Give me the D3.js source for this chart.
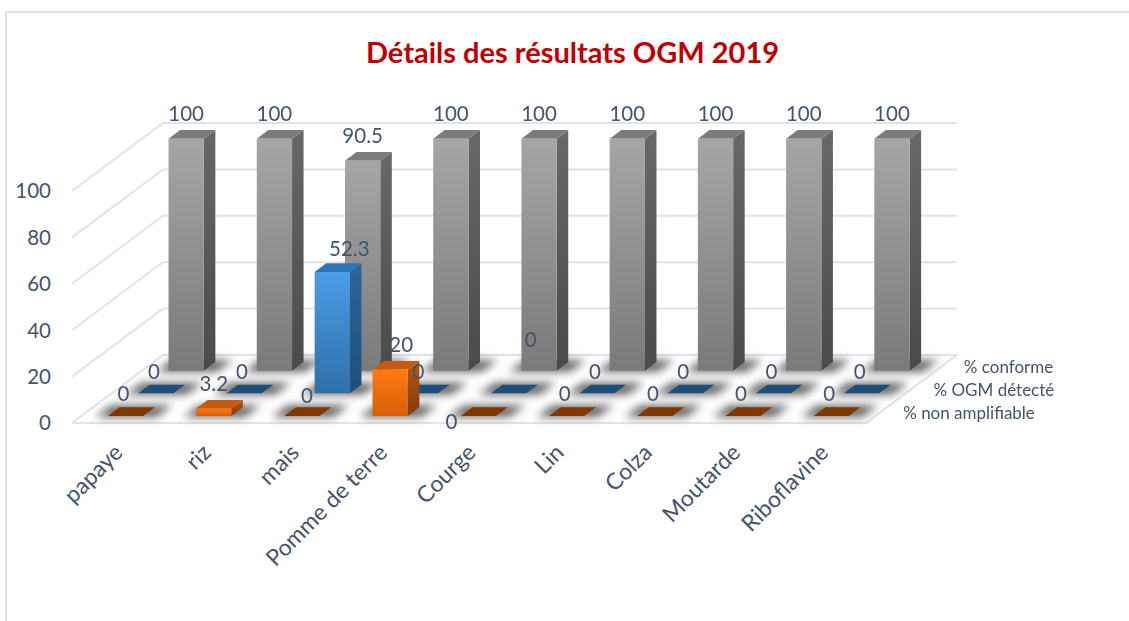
<!DOCTYPE html>
<html><head><meta charset="utf-8">
<script src="https://cdn.jsdelivr.net/npm/d3@7/dist/d3.min.js"></script>
<style>html,body{margin:0;padding:0;background:#fff}svg{display:block}text{font-family:Lato,sans-serif}</style>
</head><body><svg id="c" width="1129" height="621"></svg>
<script>
const categories = ["papaye","riz","mais","Pomme de terre","Courge","Lin","Colza","Moutarde","Riboflavine"];
const seriesNames = ["% non amplifiable","% OGM détecté","% conforme"];
const nonAmplifiable = [0,3.2,0,20,0,0,0,0,0];
const ogmDetecte = [0,0,52.3,0,0,0,0,0,0];
const conforme = [100,100,90.5,100,100,100,100,100,100];
const yTicks = [0,20,40,60,80,100];
const seriesValues = [nonAmplifiable, ogmDetecte, conforme];

const svg = d3.select("#c");
const textCol = "#44546a", gridCol = "#dfe3ec";
const ox = 72, oy = 423, fw = 794, ddx = 91, ddy = 68;
const xBand = d3.scaleBand().domain(categories).range([0,fw]).paddingInner(.6).paddingOuter(.3);
const dBand = d3.scaleBand().domain(seriesNames).range([0,1]).paddingInner(.62).paddingOuter(.31);
const h = d3.scaleLinear().domain([0,100]).range([0,232]);
const P = (u,d,v) => [ox+u+d*ddx, oy-d*ddy-h(v)];
const poly = pts => pts.map(p=>p.join(",")).join(" ");

const styles = [
 {front:["#ff7a10","#d4600a"],side:["#b4560f","#843c0c"],top:"#c55a11",plate:"#7f3700"},
 {front:["#4a9de8","#2f6fa8"],side:["#2f6499","#1f4e79"],top:"#2e75b6",plate:"#1f4e79"},
 {front:["#a6a6a6","#7a7a7a"],side:["#686868","#4a4a4a"],top:"#7b7b7b",plate:"#7b7b7b"}
];
const defs = svg.append("defs");
defs.append("filter").attr("id","blur").attr("filterUnits","userSpaceOnUse")
  .attr("x",0).attr("y",300).attr("width",1129).attr("height",160)
  .append("feGaussianBlur").attr("stdDeviation",4);
styles.forEach((s,i)=>["front","side"].forEach(k=>{
  const g = defs.append("linearGradient").attr("id",k+i).attr("x1",0).attr("y1",0).attr("x2",0).attr("y2",1);
  g.append("stop").attr("offset",0).attr("stop-color",s[k][0]);
  g.append("stop").attr("offset",1).attr("stop-color",s[k][1]);
}));

// outer frame
svg.append("path").attr("d","M6,621V12H1129").attr("fill","none").attr("stroke","#e1e5ea").attr("stroke-width",2);

// title
svg.append("text").attr("x",572.5).attr("y",63).attr("text-anchor","middle")
  .attr("font-size",29).attr("font-weight",700).attr("fill","#c00000").text("Détails des résultats OGM 2019");

// walls and floor
const grid = svg.append("g").attr("fill","none").attr("stroke",gridCol).attr("stroke-width",2);
yTicks.forEach(t=>{
  grid.append("polyline").attr("points",poly([P(0,0,t),P(0,1,t),P(fw,1,t)]));
});
grid.append("polyline").attr("points",poly([P(0,0,0),P(fw,0,0),P(fw,1,0)]));

// y tick labels
svg.append("g").selectAll("text").data(yTicks).join("text")
  .attr("x",51).attr("y",t=>P(0,0,t)[1]).attr("dy","0.36em").attr("text-anchor","end")
  .attr("font-size",20.5).attr("fill",textCol).text(d=>d);

// shadows
const cells = [];
seriesNames.forEach((s,r)=>categories.forEach((c,i)=>cells.push({s,r,c,i,v:seriesValues[r][i]})));
const geo = d => {
  const u0=xBand(d.c), u1=u0+xBand.bandwidth(), d0=dBand(d.s), d1=d0+dBand.bandwidth();
  return {u0,u1,d0,d1};
};
svg.append("g").attr("filter","url(#blur)").selectAll("polygon").data(cells).join("polygon")
  .attr("fill","#555").attr("opacity",.9)
  .attr("points",d=>{const g=geo(d),e=11;return poly([P(g.u0-e,g.d0-.02,0),P(g.u1+e+4,g.d0-.02,0),P(g.u1+e+4,g.d1+.03,0),P(g.u0-e,g.d1+.03,0)]);});

// bars, from the back row to the front row
const order = cells.slice().sort((a,b)=>b.r-a.r||a.i-b.i);
const bars = svg.append("g");
order.forEach(d=>{
  const g=geo(d), st=styles[d.r];
  if(d.v===0){
    bars.append("polygon").attr("fill",st.plate)
      .attr("points",poly([P(g.u0,g.d0,0),P(g.u1,g.d0,0),P(g.u1,g.d1,0),P(g.u0,g.d1,0)]));
    return;
  }
  bars.append("polygon").attr("fill",`url(#side${d.r})`)
    .attr("points",poly([P(g.u1,g.d0,0),P(g.u1,g.d1,0),P(g.u1,g.d1,d.v),P(g.u1,g.d0,d.v)]));
  bars.append("polygon").attr("fill",st.top)
    .attr("points",poly([P(g.u0,g.d0,d.v),P(g.u1,g.d0,d.v),P(g.u1,g.d1,d.v),P(g.u0,g.d1,d.v)]));
  bars.append("polygon").attr("fill",`url(#front${d.r})`)
    .attr("points",poly([P(g.u0,g.d0,0),P(g.u1,g.d0,0),P(g.u1,g.d0,d.v),P(g.u0,g.d0,d.v)]));
});

// data labels (a few were moved by hand in the original)
const nudges = {"2|1":[17,2],"3|0":[11,0],"4|1":[24,-32],"4|0":[-25,28],"2|0":[7,2]};
svg.append("g").selectAll("text").data(cells).join("text")
  .attr("text-anchor","middle").attr("dy","0.36em").attr("font-size",20.5).attr("fill",textCol)
  .attr("x",d=>{const g=geo(d),n=nudges[d.i+"|"+d.r]||[0,0];
     return P((g.u0+g.u1)/2,g.d0,d.v)[0]+(d.v===0?-2:0)+n[0];})
  .attr("y",d=>{const g=geo(d),n=nudges[d.i+"|"+d.r]||[0,0];
     return P(0,g.d0,d.v)[1]-(d.v===0?22:25)+n[1];})
  .text(d=>d.v);

// category labels
svg.append("g").selectAll("text").data(categories).join("text")
  .attr("text-anchor","end").attr("font-size",22.8).attr("fill",textCol)
  .attr("transform",c=>{const [x,y]=P(xBand(c)+xBand.bandwidth()/2,0,0);return `translate(${x+8},${y+31}) rotate(-45)`;})
  .text(d=>d);

// series labels along the right edge of the floor
svg.append("g").selectAll("text").data(seriesNames).join("text")
  .attr("font-size",17).attr("fill",textCol).attr("dy","0.36em")
  .attr("x",s=>P(fw,dBand(s)+dBand.bandwidth()/2,0)[0]+22)
  .attr("y",s=>P(fw,dBand(s)+dBand.bandwidth()/2,0)[1]+1)
  .text(d=>d);
</script></body></html>
